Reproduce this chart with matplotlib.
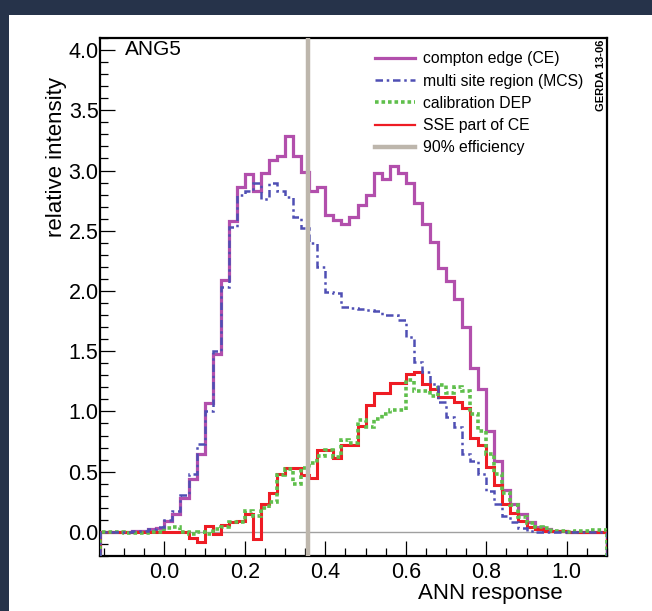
import matplotlib
matplotlib.use("Agg")
import matplotlib.pyplot as plt
import numpy as np
from matplotlib.lines import Line2D
from matplotlib.patches import Rectangle
from matplotlib.ticker import MultipleLocator, FormatStrFormatter

plt.rcParams['font.family'] = ['Liberation Sans', 'DejaVu Sans']

# histogram binning (ANN response)
bin_lo = -0.16
bin_width = 0.02
n_bins = 63
eff_cut = 0.357  # 90% efficiency cut

# compton edge (CE)
ce = [0.0, 0.0, 0.0, 0.0, 0.005, 0.01, 0.02, 0.03, 0.09, 0.15,
      0.28, 0.44, 0.65, 1.07, 1.48, 2.09, 2.58, 2.86, 2.97, 2.83,
      2.98, 3.09, 3.12, 3.29, 3.12, 2.99, 2.83, 2.86, 2.63, 2.59,
      2.56, 2.61, 2.71, 2.80, 2.98, 2.93, 3.04, 2.98, 2.90, 2.73,
      2.56, 2.41, 2.19, 2.08, 1.93, 1.70, 1.36, 1.19, 0.84, 0.59,
      0.35, 0.23, 0.15, 0.08, 0.04, 0.02, 0.01, 0.005, 0.0, 0.0,
      0.0, 0.0, 0.0]

# multi site region (MCS)
mcs = [0.0, 0.0, 0.0, 0.0, 0.005, 0.01, 0.02, 0.04, 0.10, 0.17,
       0.31, 0.48, 0.73, 1.00, 1.50, 2.03, 2.53, 2.80, 2.83, 2.90,
       2.76, 2.90, 2.83, 2.78, 2.61, 2.52, 2.40, 2.20, 1.99, 1.98,
       1.87, 1.86, 1.85, 1.84, 1.83, 1.80, 1.80, 1.76, 1.62, 1.41,
       1.33, 1.23, 1.08, 0.95, 0.87, 0.65, 0.59, 0.48, 0.34, 0.23,
       0.13, 0.08, 0.03, 0.01, 0.0, 0.0, 0.0, 0.0, 0.0, 0.0,
       0.0, 0.0, 0.0]

# calibration DEP
dep = [0.0, 0.0, 0.0, -0.005, -0.01, -0.01, 0.0, 0.0, 0.03, 0.04,
       0.0, -0.02, 0.0, -0.02, 0.02, 0.04, 0.08, 0.08, 0.17, 0.13,
       0.20, 0.25, 0.47, 0.52, 0.40, 0.53, 0.57, 0.63, 0.68, 0.62,
       0.76, 0.74, 0.93, 0.87, 0.94, 0.98, 1.01, 1.01, 1.26, 1.17,
       1.17, 1.13, 1.22, 1.15, 1.20, 1.17, 0.98, 0.84, 0.65, 0.48,
       0.32, 0.22, 0.12, 0.07, 0.04, 0.03, 0.01, 0.01, 0.0, 0.01,
       0.01, 0.015, 0.015]

# SSE part of CE
sse = [0.0, 0.0, 0.0, 0.0, 0.0, 0.0, 0.0, 0.0, 0.0, 0.0,
       0.0, -0.05, -0.08, 0.05, -0.02, 0.06, 0.08, 0.09, 0.15, -0.06,
       0.23, 0.32, 0.48, 0.53, 0.53, 0.47, 0.45, 0.68, 0.68, 0.61,
       0.72, 0.72, 0.88, 1.05, 1.15, 1.15, 1.24, 1.24, 1.31, 1.33,
       1.23, 1.19, 1.12, 1.12, 1.08, 1.03, 0.78, 0.72, 0.54, 0.39,
       0.23, 0.16, 0.09, 0.04, 0.02, 0.01, 0.005, 0.005, 0.0, 0.0,
       0.0, 0.0, 0.0]

labels = ['compton edge (CE)', 'multi site region (MCS)', 'calibration DEP',
          'SSE part of CE', '90% efficiency']

c_ce = '#b24fac'
c_mcs = '#4f4fb4'
c_dep = '#5fbf4c'
c_sse = '#ee1c24'
c_cut = '#bdb6ac'

edges = bin_lo + bin_width * np.arange(n_bins + 1)
xmin, xmax = -0.16, 1.10
ymin, ymax = -0.2, 4.1

fig = plt.figure(figsize=(6.52, 6.11), dpi=100)
fig.patch.set_facecolor('#26334a')
fig.patches.append(Rectangle((9 / 652, 0), 1, (611 - 15) / 611, transform=fig.transFigure,
                             facecolor='white', edgecolor='none', zorder=-10))
ax = fig.add_axes([100 / 652, 55 / 611, 507 / 652, 518 / 611])
ax.set_zorder(1)

ax.axhline(0, color='#a0a0a0', lw=1.0, zorder=1)

ax.stairs(ce, edges, baseline=ymin, color=c_ce, lw=2.3, zorder=2)
ax.stairs(sse, edges, baseline=ymin, color=c_sse, lw=2.2, zorder=3)
ax.stairs(dep, edges, baseline=ymin, color=c_dep, lw=2.6, linestyle=(0, (1, 0.8)), zorder=4)
ax.stairs(mcs, edges, baseline=ymin, color=c_mcs, lw=1.8, linestyle=(0, (3, 1.5, 1, 1.5)), zorder=5)
ax.axvline(eff_cut, color=c_cut, lw=3.2, zorder=6)

ax.set_xlim(xmin, xmax)
ax.set_ylim(ymin, ymax)

ax.xaxis.set_major_locator(MultipleLocator(0.2))
ax.xaxis.set_minor_locator(MultipleLocator(0.05))
ax.yaxis.set_major_locator(MultipleLocator(0.5))
ax.yaxis.set_minor_locator(MultipleLocator(0.1))
ax.xaxis.set_major_formatter(FormatStrFormatter('%.1f'))
ax.yaxis.set_major_formatter(FormatStrFormatter('%.1f'))
ax.tick_params(which='both', direction='in', top=False, right=False, labelsize=15.5, width=0.9)
ax.tick_params(which='major', length=11)
ax.tick_params(which='minor', length=5.5)
ax.tick_params(axis='x', pad=4)
ax.tick_params(axis='y', pad=1)
for s in ax.spines.values():
    s.set_linewidth(1.6)

ax.set_xlabel('ANN response', fontsize=16, loc='right')
ax.xaxis.set_label_coords(0.913, -0.053)
ax.set_ylabel('relative intensity', fontsize=16, loc='top')
ax.yaxis.set_label_coords(-0.066, 0.925)

ax.text(0.049, 0.977, 'ANG5', transform=ax.transAxes, fontsize=15, ha='left', va='center')
ax.text(0.988, 0.997, 'GERDA 13-06', transform=ax.transAxes, fontsize=8, fontweight='bold',
        rotation=90, ha='center', va='top')

handles = [
    Line2D([], [], color=c_ce, lw=2.3),
    Line2D([], [], color=c_mcs, lw=1.8, linestyle=(0, (3, 1.5, 1, 1.5))),
    Line2D([], [], color=c_dep, lw=2.6, linestyle=(0, (1, 0.8))),
    Line2D([], [], color=c_sse, lw=1.6),
    Line2D([], [], color=c_cut, lw=3.2),
]
ax.legend(handles, labels, loc='upper left', bbox_to_anchor=(0.542, 0.974), frameon=False,
          fontsize=11.3, handlelength=2.55, handletextpad=0.5, labelspacing=0.46,
          borderpad=0, borderaxespad=0)

fig.savefig('out.png', dpi=100, facecolor=fig.get_facecolor())
